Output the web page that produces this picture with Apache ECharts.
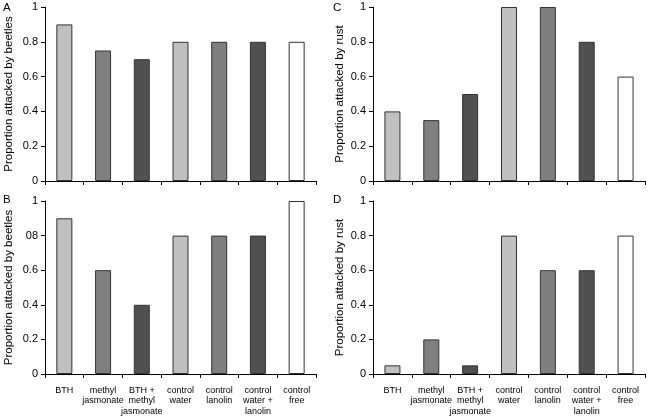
<!DOCTYPE html>
<html><head><meta charset="utf-8">
<script src="https://cdn.jsdelivr.net/npm/echarts@6/dist/echarts.min.js"></script>
<style>html,body{margin:0;padding:0;background:#fff}#c{width:650px;height:419px}</style>
</head><body><div id="c"></div>
<script>
var categories = ['BTH', 'methyl\njasmonate', 'BTH +\nmethyl\njasmonate', 'control\nwater', 'control\nlanolin', 'control\nwater +\nlanolin', 'control\nfree'];
var barColors = ['#c0c0c0', '#7f7f7f', '#505050', '#c0c0c0', '#7f7f7f', '#505050', '#ffffff'];
var valuesA = [0.9, 0.75, 0.7, 0.8, 0.8, 0.8, 0.8];
var valuesB = [0.9, 0.6, 0.4, 0.8, 0.8, 0.8, 1.0];
var valuesC = [0.4, 0.35, 0.5, 1.0, 1.0, 0.8, 0.6];
var valuesD = [0.05, 0.2, 0.05, 0.8, 0.6, 0.6, 0.8];
var yTicks = ['0', '0.2', '0.4', '0.6', '0.8', '1'];
var yTicksB = ['0', '0.2', '0.4', '0.6', '08', '1'];
var yNameBeetles = 'Proportion attacked by beetles';
var yNameRust = 'Proportion attacked by rust';
var panelLetters = ['A', 'B', 'C', 'D'];

var FONT = '"Liberation Sans", Arial, sans-serif';
var grids = [
  {left: 45, top: 7, width: 271, height: 174},
  {left: 45, top: 201, width: 271, height: 173},
  {left: 373, top: 7, width: 272, height: 174},
  {left: 373, top: 201, width: 272, height: 173}
];
var panelData = [valuesA, valuesB, valuesC, valuesD];
var panelTicks = [yTicks, yTicksB, yTicks, yTicks];
var panelNames = [yNameBeetles, yNameBeetles, yNameRust, yNameRust];
var showX = [false, true, false, true];
var nameGaps = [30, 30, 27, 27];

var xAxes = [], yAxes = [], series = [];
for (var i = 0; i < 4; i++) {
  (function(i){
  xAxes.push({
    gridIndex: i, type: 'category', data: categories,
    axisLine: {lineStyle: {color: '#000', width: 1}},
    axisTick: {show: true, length: 4, lineStyle: {color: '#000'}},
    axisLabel: {show: showX[i], interval: 0, color: '#000', fontSize: 9, fontFamily: FONT, lineHeight: 10.5, margin: 11}
  });
  var ticks = panelTicks[i];
  yAxes.push({
    gridIndex: i, type: 'value', min: 0, max: 1, interval: 0.2,
    name: panelNames[i], nameLocation: 'middle', nameGap: nameGaps[i], nameRotate: 90,
    nameTextStyle: {color: '#000', fontSize: 11.5, fontFamily: FONT},
    axisLine: {show: true, lineStyle: {color: '#000', width: 1}},
    axisTick: {show: true, length: 4, lineStyle: {color: '#000'}},
    splitLine: {show: false},
    axisLabel: {color: '#000', fontSize: 11, fontFamily: FONT, margin: 7,
      formatter: function(v){ return ticks[Math.round(v / 0.2)]; }}
  });
  series.push({
    type: 'bar', xAxisIndex: i, yAxisIndex: i, barWidth: 16,
    data: panelData[i].map(function(v, k){
      return {value: v, itemStyle: {color: barColors[k]}};
    }),
    itemStyle: {borderColor: '#333', borderWidth: 1},
    silent: true, animation: false
  });
  })(i);
}

var letterPos = [[3, 2], [3, 194], [333, 2], [333, 194]];
var graphics = panelLetters.map(function(t, k){
  return {type: 'text', left: letterPos[k][0], top: letterPos[k][1],
    style: {text: t, fill: '#000', font: '11.5px ' + FONT}};
});

var chart = echarts.init(document.getElementById('c'), null, {renderer: 'canvas'});
chart.setOption({
  animation: false,
  backgroundColor: '#fff',
  grid: grids,
  xAxis: xAxes,
  yAxis: yAxes,
  series: series,
  graphic: graphics
});
</script></body></html>
